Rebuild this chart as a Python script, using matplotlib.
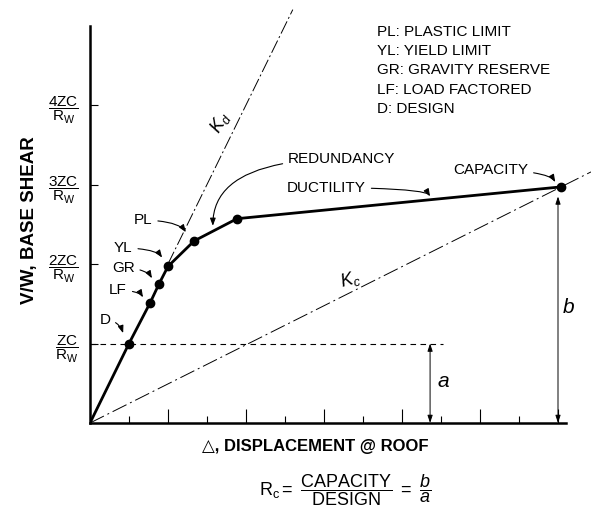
import matplotlib.pyplot as plt

plt.rcParams['font.family'] = ['Liberation Sans', 'DejaVu Sans']
plt.rcParams['mathtext.fontset'] = 'custom'
plt.rcParams['mathtext.rm'] = 'Liberation Sans'
plt.rcParams['mathtext.it'] = 'Liberation Sans:italic'
plt.rcParams['mathtext.bf'] = 'Liberation Sans:bold'

# pushover curve (x: displacement ticks, y: multiples of ZC/Rw)
curve_x = [0, 1.0, 1.54, 1.77, 2.0, 2.67, 3.77, 12.08]
curve_y = [0, 1.0, 1.51, 1.75, 1.97, 2.29, 2.57, 2.97]
point_names = ['D', 'LF', 'GR', 'YL', 'PL']
legend_lines = ['PL: PLASTIC LIMIT', 'YL: YIELD LIMIT', 'GR: GRAVITY RESERVE',
                'LF: LOAD FACTORED', 'D: DESIGN']
y_ticks = [1, 2, 3, 4]
y_tick_labels = [r'$\mathrm{\dfrac{ZC}{R_W}}$', r'$\mathrm{\dfrac{2ZC}{R_W}}$',
                 r'$\mathrm{\dfrac{3ZC}{R_W}}$', r'$\mathrm{\dfrac{4ZC}{R_W}}$']
kd_end = 5.2
design_level = 1.0
a_x = 8.72
dash_end = 9.05
cap_x, cap_y = curve_x[-1], curve_y[-1]

fig = plt.figure(figsize=(5.91, 5.23), dpi=100)
ax = fig.add_axes([90 / 591, 100 / 523, 501 / 591, 410 / 523])
ax.set_xlim(0, 501 / 39)
ax.set_ylim(0, 410 / 79.5)

for s in ['top', 'right']:
    ax.spines[s].set_visible(False)
ax.spines['left'].set_bounds(0, 5.0)
ax.spines['bottom'].set_bounds(0, 12.2)
ax.spines['left'].set_linewidth(1.8)
ax.spines['bottom'].set_linewidth(1.8)

ax.set_xticks(range(2, 13, 2))
ax.set_xticks(range(1, 12, 2), minor=True)
ax.set_xticklabels([])
ax.tick_params(axis='x', which='major', direction='in', length=10, width=0.8)
ax.tick_params(axis='x', which='minor', direction='in', length=5, width=0.8)
ax.set_yticks(y_ticks)
ax.set_yticklabels(y_tick_labels, fontsize=11)
ax.tick_params(axis='y', direction='in', length=6, width=0.8, pad=8)

# reference lines
ax.plot([2.0, kd_end], [2.0, kd_end], color='black', lw=0.7,
        linestyle=(0, (14, 3, 2, 3)), clip_on=False)
kc_slope = cap_y / cap_x
ax.plot([0, 501 / 39], [0, kc_slope * 501 / 39], color='black', lw=0.7,
        linestyle=(0, (16, 4, 2, 4)), clip_on=False)
ax.plot([0, dash_end], [design_level, design_level], color='black', lw=0.8,
        linestyle=(0, (5, 4)))

# curve
ax.plot(curve_x, curve_y, color='black', lw=2.0, solid_capstyle='round', zorder=3)
ax.plot(curve_x[1:], curve_y[1:], 'o', color='black', ms=6, zorder=4)

arrow_kw = dict(arrowstyle='-|>,head_length=0.4,head_width=0.15', color='black', lw=0.8,
                shrinkA=2, shrinkB=0)

# point labels
label_pos = {'D': ((0.38, 1.30), (0.85, 1.13), 'arc3,rad=-0.35'),
             'LF': ((0.72, 1.67), (1.36, 1.58), 'angle3,angleA=0,angleB=-60'),
             'GR': ((0.85, 1.95), (1.59, 1.82), 'angle3,angleA=0,angleB=-60'),
             'YL': ((0.85, 2.20), (1.85, 2.08), 'angle3,angleA=0,angleB=-55'),
             'PL': ((1.36, 2.55), (2.46, 2.40), 'angle3,angleA=0,angleB=-55')}
for name in point_names:
    txt, tip, cs = label_pos[name]
    ax.annotate(name, xy=tip, xytext=txt, fontsize=11, ha='center', va='center',
                arrowprops=dict(connectionstyle=cs, **arrow_kw))

ax.annotate('REDUNDANCY', xy=(3.15, 2.48), xytext=(5.08, 3.32), fontsize=11,
            ha='left', va='center',
            arrowprops=dict(connectionstyle='angle3,angleA=0,angleB=90', **arrow_kw))
ax.annotate('DUCTILITY', xy=(8.72, 2.85), xytext=(5.05, 2.96), fontsize=11,
            ha='left', va='center',
            arrowprops=dict(connectionstyle='angle3,angleA=0,angleB=-60', **arrow_kw))
ax.annotate('CAPACITY', xy=(11.93, 3.03), xytext=(9.31, 3.18), fontsize=11,
            ha='left', va='center',
            arrowprops=dict(connectionstyle='angle3,angleA=0,angleB=-60', **arrow_kw))

# legend text
for i, line in enumerate(legend_lines):
    ax.text(7.36, 4.92 - i * 0.243, line, fontsize=11, ha='left', va='center')

# a and b dimension arrows
dim_kw = dict(arrowstyle='<|-|>,head_length=0.45,head_width=0.15', color='black', lw=0.7,
              shrinkA=0, shrinkB=0)
ax.annotate('', xy=(a_x, 0), xytext=(a_x, design_level), arrowprops=dim_kw)
ax.annotate('', xy=(12.0, 0), xytext=(12.0, cap_y - 0.12), arrowprops=dim_kw)
ax.text(9.05, 0.52, 'a', fontsize=15, style='italic', ha='center', va='center')
ax.text(12.28, 1.45, 'b', fontsize=15, style='italic', ha='center', va='center')

ax.text(3.35, 3.78, r'$K_d$', fontsize=13, rotation=58, ha='center', va='center')
ax.text(6.67, 1.80, r'$K_c$', fontsize=13, rotation=15, ha='center', va='center')

# axis labels
ax.text(-1.54, 2.55, 'V/W, BASE SHEAR', fontsize=13.5, fontweight='bold', rotation=90,
        ha='center', va='center', clip_on=False)
ax.text(5.77, -0.30, '△, DISPLACEMENT @ ROOF', fontsize=12, fontweight='bold',
        ha='center', va='center', clip_on=False)

ax.text(6.55, -0.85,
        r'$\mathrm{R_c = \ \dfrac{CAPACITY}{DESIGN}\ = \ \dfrac{\mathit{b}}{\mathit{a}}}$',
        fontsize=13, ha='center', va='center', clip_on=False)

fig.savefig('out.png', dpi=100)
